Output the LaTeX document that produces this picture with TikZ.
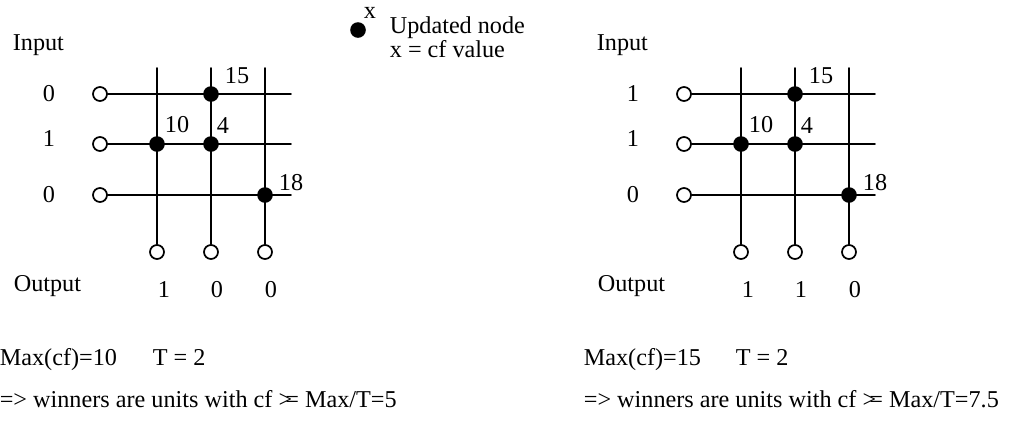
\documentclass[tikz,border=0pt]{standalone}
\usepackage{fontspec}
\setmainfont{Liberation Serif}
\begin{document}
\begin{tikzpicture}[x=.5pt,y=-.5pt,line width=.85pt,line cap=round,font=\fontsize{12.1}{13}\selectfont,
	inp/.style={circle,draw,fill=white,inner sep=0pt,minimum size=7pt},
	upd/.style={circle,fill,inner sep=0pt,minimum size=7.8pt},
	txt/.style={inner sep=0pt,anchor=base west}]
	\useasboundingbox (0,0) rectangle (1011,425);
	% key
	\node[upd] (key) at (358,30) {};
	\node (keyx) at (370,13) {x};
	\node[txt] (keya) at (389,33) {Updated node};
	\node[txt] (keyb) at (389,57) {x = cf value};
	% left network
	\node[txt] (inA) at (12,50) {Input};
	\node[txt] (outA) at (13,291) {Output};
	\node (xa1) at (49,94) {0};
	\node (xa2) at (49,139) {1};
	\node (xa3) at (49,195) {0};
	\node[inp] (ia1) at (100,94) {};
	\node[inp] (ia2) at (100,144) {};
	\node[inp] (ia3) at (100,195) {};
	\node[inp] (oa1) at (157,252) {};
	\node[inp] (oa2) at (211,252) {};
	\node[inp] (oa3) at (265,252) {};
	\coordinate (ta1) at (157,68);
	\coordinate (ta2) at (211,68);
	\coordinate (ta3) at (265,68);
	\coordinate (ea1) at (291,94);
	\coordinate (ea2) at (291,144);
	\coordinate (ea3) at (291,195);
	\draw (ia1) -- (ea1) (ia2) -- (ea2) (ia3) -- (ea3);
	\draw (ta1) -- (oa1) (ta2) -- (oa2) (ta3) -- (oa3);
	\node[upd] (na15) at (211,94) {};
	\node[upd] (na10) at (157,144) {};
	\node[upd] (na4) at (211,144) {};
	\node[upd] (na18) at (265,195) {};
	\node (va15) at (237,76) {15};
	\node (va10) at (177,125) {10};
	\node (va4) at (223,126) {4};
	\node (va18) at (291,183) {18};
	\node[anchor=base] (ya1) at (164,297) {1};
	\node[anchor=base] (ya2) at (217,297) {0};
	\node[anchor=base] (ya3) at (271,297) {0};
	\node[txt] (maxA) at (-1,365) {Max(cf)=10};
	\node[txt] (tA) at (152,365) {T = 2};
	\node[txt] (winA) at (-1,407) {=> winners are units with cf >\kern-.28em= Max/T=5};
	% right network
	\node[txt] (inB) at (596,50) {Input};
	\node[txt] (outB) at (597,291) {Output};
	\node (xb1) at (633,94) {1};
	\node (xb2) at (633,139) {1};
	\node (xb3) at (633,195) {0};
	\node[inp] (ib1) at (684,94) {};
	\node[inp] (ib2) at (684,144) {};
	\node[inp] (ib3) at (684,195) {};
	\node[inp] (ob1) at (741,252) {};
	\node[inp] (ob2) at (795,252) {};
	\node[inp] (ob3) at (849,252) {};
	\coordinate (tb1) at (741,68);
	\coordinate (tb2) at (795,68);
	\coordinate (tb3) at (849,68);
	\coordinate (eb1) at (875,94);
	\coordinate (eb2) at (875,144);
	\coordinate (eb3) at (875,195);
	\draw (ib1) -- (eb1) (ib2) -- (eb2) (ib3) -- (eb3);
	\draw (tb1) -- (ob1) (tb2) -- (ob2) (tb3) -- (ob3);
	\node[upd] (nb15) at (795,94) {};
	\node[upd] (nb10) at (741,144) {};
	\node[upd] (nb4) at (795,144) {};
	\node[upd] (nb18) at (849,195) {};
	\node (vb15) at (821,76) {15};
	\node (vb10) at (761,125) {10};
	\node (vb4) at (807,126) {4};
	\node (vb18) at (875,183) {18};
	\node[anchor=base] (yb1) at (748,297) {1};
	\node[anchor=base] (yb2) at (801,297) {1};
	\node[anchor=base] (yb3) at (855,297) {0};
	\node[txt] (maxB) at (583,365) {Max(cf)=15};
	\node[txt] (tB) at (735,365) {T = 2};
	\node[txt] (winB) at (583,407) {=> winners are units with cf >\kern-.28em= Max/T=7.5};
\end{tikzpicture}
\end{document}
